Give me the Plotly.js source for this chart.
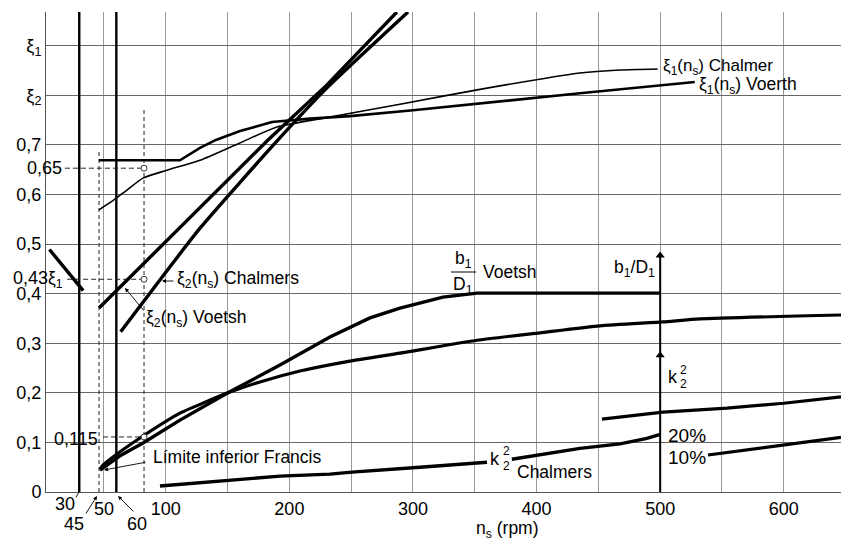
<!DOCTYPE html>
<html><head><meta charset="utf-8">
<script src="https://cdn.plot.ly/plotly-3.0.1.min.js"></script>
<style>html,body{margin:0;padding:0;background:#fff;}#chart{width:841px;height:542px;}</style>
</head><body><div id="chart"></div>
<script>
// ---------- data (n_s in rpm, values dimensionless) ----------
const xi1ChalmersNs  = [46, 58, 68.6, 81.6, 101, 127.7, 160, 190, 232.8, 289.5, 354.2, 435.1, 467.5, 498];
const xi1ChalmersVal = [0.569, 0.589, 0.609, 0.633, 0.649, 0.669, 0.704, 0.736, 0.756, 0.782, 0.812, 0.845, 0.851, 0.853];

const xi1VoerthNs  = [46, 111.5, 127.7, 140.6, 160.1, 185.9, 216.7, 249, 300, 354.2, 435.1, 528];
const xi1VoerthVal = [0.669, 0.669, 0.694, 0.710, 0.728, 0.746, 0.753, 0.758, 0.770, 0.784, 0.804, 0.827];

const xi2ChalmersNs  = [46, 127.7, 182.7, 230.4, 287];
const xi2ChalmersVal = [0.371, 0.575, 0.710, 0.821, 0.968];

const xi2VoetshNs  = [63.5, 127.7, 190.8, 231.2, 296];
const xi2VoetshVal = [0.323, 0.532, 0.710, 0.817, 0.968];

const xi1LowNs  = [5.9, 33.2];
const xi1LowVal = [0.489, 0.406];

const b1d1Ns  = [46.8, 63, 81.6, 111.5, 150.3, 192.4, 232.8, 265.2, 289.5, 324.3, 351.8, 500];
const b1d1Val = [0.044, 0.073, 0.099, 0.145, 0.200, 0.256, 0.3125, 0.351, 0.371, 0.393, 0.401, 0.401];

const k2UpperNs  = [46.8, 49.2, 63, 81.6, 111.5, 150.3, 176.2, 208.6, 249, 289.5, 351.8, 402.7, 451.3, 502.3, 532.2, 646.3];
const k2UpperVal = [0.046, 0.054, 0.081, 0.113, 0.159, 0.200, 0.222, 0.244, 0.264, 0.280, 0.306, 0.321, 0.335, 0.343, 0.349, 0.357];

const k2ChalmersNs  = [95.3, 143.8, 192.4, 232.8, 250.6, 305.6, 359.9, null, 380, 406.7, 435.1, 467.5, 489.3, 500];
const k2ChalmersVal = [0.012, 0.022, 0.032, 0.036, 0.040, 0.050, 0.060, null, 0.066, 0.076, 0.088, 0.097, 0.108, 0.116];

const k2RightNs  = [452.9, 502.3, 554, 600, 646.3];
const k2RightVal = [0.147, 0.161, 0.169, 0.179, 0.192];

const k2TenNs  = [538.7, 600, 646.3];
const k2TenVal = [0.0746, 0.095, 0.110];

const thickVerticalNs = [30, 60];
const dashVertNs  = [46, 82.4];
const dashVertTop = [0.69, 0.772];
const refNs = 82.4;
const refLevels  = [0.653, 0.429, 0.111];
const refStartNs = [18.4, 20.2, 49.2];
const arrowNs = 500;
const arrowLevels = [0.282, 0.483];

const xTickVals = [50, 100, 150, 200, 250, 300, 350, 400, 450, 500, 550, 600];
const xTickText = ['50', '100', '', '200', '', '300', '', '400', '', '500', '', '600'];
const yTickVals = [0, 0.1, 0.2, 0.3, 0.4, 0.5, 0.6, 0.7, 0.8, 0.9];
const yTickText = ['0', '0,1', '0,2', '0,3', '0,4', '0,5', '0,6', '0,7', 'ξ<sub>2</sub>', 'ξ<sub>1</sub>'];

// ---------- layout constants ----------
const FONT = 'Liberation Sans, Arial, Helvetica, sans-serif';
const LS = 17.5;
const M = {l: 46, r: 0, t: 12, b: 50};
const PW = 841 - M.l - M.r, PH = 542 - M.t - M.b;
const XR = [3.1, 646.3], YR = [0, 0.968];

const traces = [];
function addLine(x, y, width, extra) {
  traces.push(Object.assign({x: x, y: y, mode: 'lines', type: 'scatter', hoverinfo: 'skip', connectgaps: false,
    line: Object.assign({color: '#000', width: width}, (extra && extra.line) || {})}, extra && extra.rest));
}
thickVerticalNs.forEach(n => addLine([n, n], [YR[0], YR[1]], 2.4));
dashVertNs.forEach((n, i) => addLine([n, n], [0, dashVertTop[i]], 1, {line: {dash: '4px,3px', color: '#222'}}));
refLevels.forEach((v, i) => addLine([refStartNs[i], refNs], [v, v], 1, {line: {dash: '5px,3px', color: '#222'}}));

addLine(xi1ChalmersNs, xi1ChalmersVal, 1.6, {line: {shape: 'spline', smoothing: 0.6}});
addLine(xi1VoerthNs, xi1VoerthVal, 2.6);
addLine(xi2ChalmersNs, xi2ChalmersVal, 3.4);
addLine(xi2VoetshNs, xi2VoetshVal, 3.4, {line: {shape: 'spline', smoothing: 0.5}});
addLine(xi1LowNs, xi1LowVal, 3.4);
addLine(b1d1Ns, b1d1Val, 3.4);
addLine(k2UpperNs, k2UpperVal, 3.2, {line: {shape: 'spline', smoothing: 0.5}});
addLine(k2ChalmersNs, k2ChalmersVal, 3.4);
addLine(k2RightNs, k2RightVal, 3.2);
addLine(k2TenNs, k2TenVal, 3.2);
addLine([arrowNs, arrowNs], [0, arrowLevels[1] - 0.006], 2);

traces.push({x: arrowLevels.map(() => arrowNs), y: arrowLevels.map(v => v - 0.006), mode: 'markers', type: 'scatter', hoverinfo: 'skip',
  marker: {symbol: 'triangle-up', size: 8, color: '#000'}});
traces.push({x: refLevels.map(() => refNs), y: refLevels, mode: 'markers', type: 'scatter', hoverinfo: 'skip',
  marker: {symbol: 'circle', size: 6, color: '#fff', line: {color: '#333', width: 1}}});

// ---------- annotations (positions in page pixels) ----------
const px = v => (v - M.l) / PW;
const py = v => (M.t + PH - v) / PH;
function A(text, x, y, anchor, size) {
  return {xref: 'paper', yref: 'paper', x: px(x), y: py(y), xanchor: anchor || 'left', yanchor: 'middle',
    text: text, showarrow: false, font: {family: FONT, size: size || LS, color: '#000'}};
}
function Arr(hx, hy, ax, ay, head) {
  return {xref: 'paper', yref: 'paper', x: px(hx), y: py(hy), ax: ax, ay: ay, text: '', showarrow: true,
    arrowhead: head, arrowsize: 0.9, arrowwidth: 0.9, arrowcolor: '#000', standoff: 0, startstandoff: 0};
}
const annotations = [
  A('ξ<sub>1</sub>(n<sub>s</sub>) Chalmer', 661, 67, 'left', 17),
  A('ξ<sub>1</sub>(n<sub>s</sub>) Voerth', 697, 85),
  A('ξ<sub>2</sub>(n<sub>s</sub>) Chalmers', 175, 279),
  A('ξ<sub>2</sub>(n<sub>s</sub>) Voetsh', 144, 318),
  A('Límite inferior Francis', 151, 457),
  A('b<sub>1</sub>', 463, 259, 'center'),
  A('D<sub>1</sub>', 463, 285, 'center'),
  A('Voetsh', 481, 272),
  A('b<sub>1</sub>/D<sub>1</sub>', 657, 268, 'right'),
  A('k', 673, 377, 'center', 18),
  A('2', 683, 370, 'center', 12),
  A('2', 683, 384, 'center', 12),
  A('20%', 666, 435, 'left', 19),
  A('10%', 666, 457, 'left', 19),
  A('k', 495, 459, 'center', 18),
  A('2', 506, 451, 'center', 12),
  A('2', 506, 466, 'center', 12),
  A('Chalmers', 515, 472),
  A('0,65', 64, 168, 'right', 18),
  A('0,43', 50, 278, 'right', 18),
  A('ξ<sub>1</sub>', 46, 279, 'left'),
  A('0,115', 52, 439, 'left', 18),
  A('30', 65, 504, 'center', 18),
  A('45', 74, 524, 'center', 18),
  A('60', 137, 524, 'center', 18),
  A('n<sub>s</sub> (rpm)', 507, 529, 'center'),
  Arr(162, 281, 13, 0, 2),
  Arr(125, 288, 20, 24, 2),
  Arr(104, 470, 43, -8, 2),
  Arr(97, 496, -12, 19, 2),
  Arr(118, 496, 17, 17, 2),
  Arr(79, 492, -4, 7, 0)
];
const shapes = [{type: 'line', xref: 'paper', yref: 'paper', x0: px(451), x1: px(476), y0: py(272), y1: py(272),
  line: {color: '#000', width: 1}}];

const layout = {
  width: 841, height: 542, margin: M, showlegend: false,
  paper_bgcolor: '#fff', plot_bgcolor: '#fff',
  font: {family: FONT, size: 18, color: '#000'},
  xaxis: {range: XR, tickmode: 'array', tickvals: xTickVals, ticktext: xTickText, showgrid: true, gridcolor: '#9a9a9a', gridwidth: 1,
    zeroline: false, showline: true, linecolor: '#555', linewidth: 1, ticks: '', tickfont: {family: FONT, size: 18}, fixedrange: true},
  yaxis: {range: YR, tickmode: 'array', tickvals: yTickVals, ticktext: yTickText, showgrid: true, gridcolor: '#666', gridwidth: 1,
    zeroline: false, showline: true, linecolor: '#555', linewidth: 1, ticks: '', tickfont: {family: FONT, size: 18}, fixedrange: true},
  annotations: annotations, shapes: shapes
};
Plotly.newPlot('chart', traces, layout, {staticPlot: true, displayModeBar: false});
</script></body></html>
